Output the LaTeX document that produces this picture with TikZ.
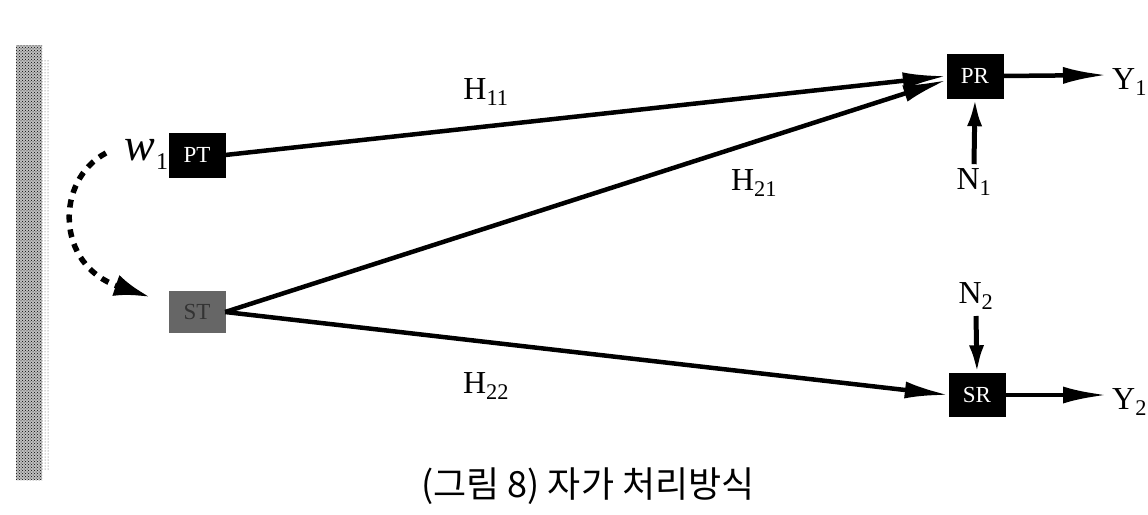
\documentclass[tikz,border=0pt]{standalone}
\usepackage{fontspec}
\setmainfont{Liberation Serif}
\newfontfamily\cjk{Noto Sans CJK KR}
\usetikzlibrary{arrows.meta,patterns}
\begin{document}
\begin{tikzpicture}[x=1pt,y=-1pt,
  blk/.style={fill=black,draw=black,minimum width=56pt,minimum height=44pt,inner sep=0pt,text=white,font=\fontsize{23}{23}\selectfont},
  lbl/.style={font=\fontsize{32}{32}\selectfont,inner sep=0pt},
  conn/.style={line width=4.5pt,-{Latex[length=44pt,width=17pt]}},
  shortconn/.style={line width=5pt,-{Latex[length=28pt,width=15pt]}}]
\useasboundingbox (0,0) rectangle (1148,514);
% speckled scan band
\fill[black!25] (16,45) rectangle (42,480);
\fill[pattern=crosshatch dots,pattern color=black] (16,45) rectangle (42,480);
\fill[pattern=dots,pattern color=black!70] (42,60) rectangle (50,470);
% nodes
\node[blk] (PT) at (197,155) {PT};
\node[blk,fill=black!60,draw=black!60,text=black!80,minimum height=41pt] (ST) at (197,312) {ST};
\node[blk] (PR) at (975,76) {PR};
\node[blk,minimum height=43pt] (SR) at (977,395) {SR};
\node[inner sep=0pt,font=\fontsize{46}{46}\selectfont\itshape] (w) at (140,150) {w};
\node[inner sep=0pt,font=\fontsize{24}{24}\selectfont,anchor=west] (w1) at (156,162) {1};
\coordinate (dstart) at (106,153);
\coordinate (Y1a) at (1107,75);
\coordinate (Y2a) at (1107,395);
\node[lbl,anchor=west] (Y1) at (1112,82) {Y\textsubscript{1}};
\node[lbl,anchor=west] (Y2) at (1112,402) {Y\textsubscript{2}};
\node[lbl] (N1) at (974,182) {N\textsubscript{1}};
\node[lbl] (N2) at (976,296) {N\textsubscript{2}};
\node[lbl] (H11) at (486,92) {H\textsubscript{11}};
\node[lbl] (H21) at (754,183) {H\textsubscript{21}};
\node[lbl] (H22) at (486,386) {H\textsubscript{22}};
% connectors
\draw[conn] (PT.east) -- (PR.west);
\draw[conn] (ST.east) -- ([yshift=-4pt]PR.west);
\draw[conn] (ST.east) -- (SR.west);
\draw[conn] (PR.east) -- (Y1a);
\draw[conn] (SR.east) -- (Y2a);
\draw[shortconn] ([yshift=4pt]N1.north) -- (PR.south);
\draw[shortconn] ([yshift=-20pt]N2.center) -- (SR.north);
\draw[line width=5.5pt,dash pattern=on 8pt off 7pt,-{Latex[length=36pt,width=22pt]}]
  (dstart) .. controls (55,180) and (55,265) .. (150,297);
% caption
\node[inner sep=0pt,font=\cjk\fontsize{36}{36}\selectfont] (cap) at (588,486) {(그림 8) 자가 처리방식};
\end{tikzpicture}
\end{document}
